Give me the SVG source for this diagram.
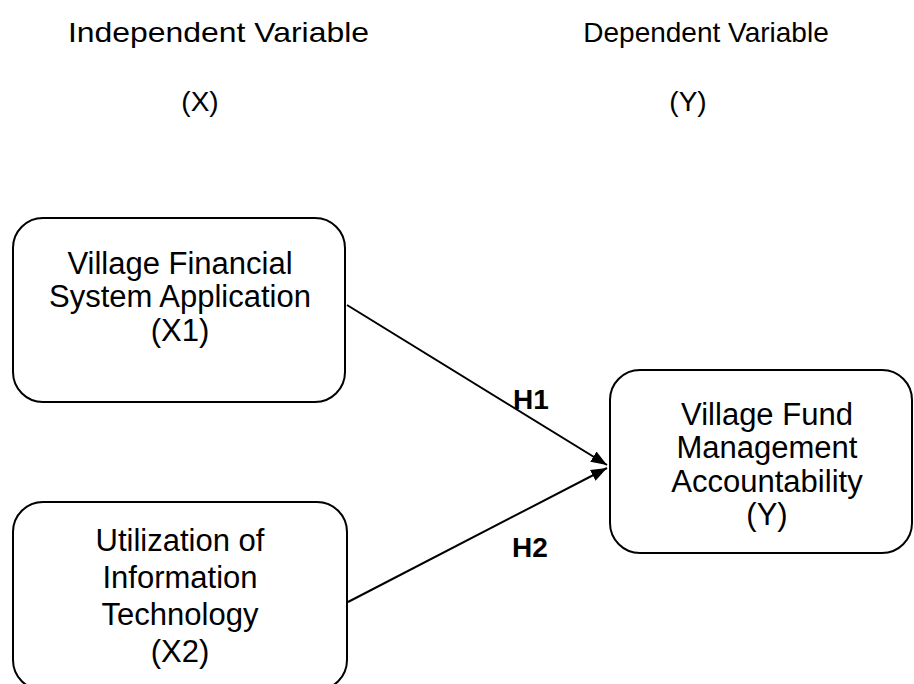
<svg xmlns="http://www.w3.org/2000/svg" width="914" height="684" viewBox="0 0 914 684">
<style>
  .hdr { font-family: "Liberation Sans", Arial, sans-serif; font-size: 28px; fill: #000; }
  .txt { font-family: "Liberation Sans", Arial, sans-serif; font-size: 31px; fill: #000; text-anchor: middle; }
  .lbl { font-family: "Liberation Sans", Arial, sans-serif; font-size: 28px; font-weight: bold; fill: #000; }
  .box { fill: #fff; stroke: #000; stroke-width: 2; }
  .conn { stroke: #000; stroke-width: 2; fill: none; }
</style>
<defs>
  <marker id="arrow" viewBox="0 0 16 12" refX="16" refY="6" markerWidth="16" markerHeight="12" markerUnits="userSpaceOnUse" orient="auto">
    <path d="M0,0 L16,6 L0,12 Z" fill="#000"/>
  </marker>
</defs>
<rect width="914" height="684" fill="#fff"/>
<g id="headers">
  <text class="hdr" x="68" y="42" textLength="301" lengthAdjust="spacingAndGlyphs">Independent Variable</text>
  <text class="hdr" x="200" y="111" text-anchor="middle">(X)</text>
  <text class="hdr" x="706" y="42" text-anchor="middle">Dependent Variable</text>
  <text class="hdr" x="688" y="111" text-anchor="middle">(Y)</text>
</g>
<g id="connectors">
  <line class="conn" x1="347" y1="305" x2="607" y2="465" marker-end="url(#arrow)"/>
  <line class="conn" x1="348" y1="602" x2="607" y2="468" marker-end="url(#arrow)"/>
  <text class="lbl" x="513" y="409">H1</text>
  <text class="lbl" x="512" y="557">H2</text>
</g>
<g id="x1">
  <rect class="box" x="13" y="218" width="332" height="184" rx="30" ry="30"/>
  <text class="txt" x="180" y="274">Village Financial</text>
  <text class="txt" x="180" y="307">System Application</text>
  <text class="txt" x="180" y="341">(X1)</text>
</g>
<g id="x2">
  <rect class="box" x="13" y="502" width="334" height="188" rx="30" ry="30"/>
  <text class="txt" x="180" y="551">Utilization of</text>
  <text class="txt" x="180" y="588">Information</text>
  <text class="txt" x="180" y="625">Technology</text>
  <text class="txt" x="180" y="662">(X2)</text>
</g>
<g id="y">
  <rect class="box" x="610" y="370" width="302" height="183" rx="30" ry="30"/>
  <text class="txt" x="767" y="425">Village Fund</text>
  <text class="txt" x="767" y="458">Management</text>
  <text class="txt" x="767" y="492">Accountability</text>
  <text class="txt" x="767" y="525">(Y)</text>
</g>
</svg>
